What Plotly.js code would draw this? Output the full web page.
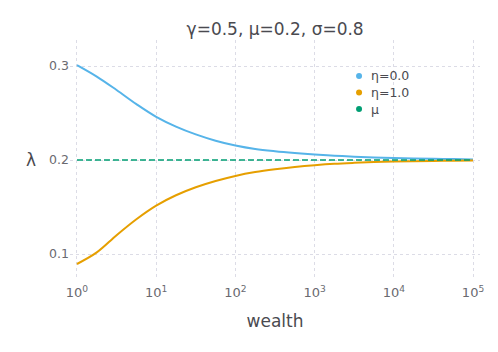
<!DOCTYPE html>
<html>
<head>
<meta charset="utf-8">
<script src="https://cdn.plot.ly/plotly-3.0.1.min.js"></script>
<style>
  html, body { margin: 0; padding: 0; background: #fff; }
  #plot { width: 498px; height: 352px; }
</style>
</head>
<body>
<div id="plot"></div>
<script>
// wealth sampled every quarter decade
var wealth = [1, 1.778, 3.162, 5.623, 10, 17.78, 31.62, 56.23, 100, 177.8, 316.2, 562.3,
              1000, 1778, 3162, 5623, 10000, 17783, 31623, 56234, 100000];
var lambdaEta0 = [0.301, 0.2888, 0.2745, 0.2595, 0.2460, 0.2356, 0.2273, 0.2206, 0.2155, 0.2118, 0.2094,
                  0.2075, 0.2059, 0.2046, 0.2036, 0.2028, 0.2022, 0.2017, 0.2013, 0.2010, 0.2007];
var lambdaEta1 = [0.0894, 0.1017, 0.1200, 0.1370, 0.1515, 0.1625, 0.1710, 0.1777, 0.1831, 0.1872, 0.1902,
                  0.1926, 0.1945, 0.196, 0.197, 0.1978, 0.1984, 0.1988, 0.1991, 0.1993, 0.1995];
var muWealth = [1, 100000];
var muValue = [0.2, 0.2];

var tickWealth = [1, 10, 100, 1000, 10000, 100000];
var tickText = ['10<sup>0</sup>', '10<sup>1</sup>', '10<sup>2</sup>', '10<sup>3</sup>', '10<sup>4</sup>', '10<sup>5</sup>'];
var yTicks = [0.1, 0.2, 0.3];
var yTickText = ['0.1', '0.2', '0.3'];

var names = ['η=0.0', 'η=1.0', 'μ'];
var colors = ['#56B4E9', '#E69F00', '#009E73'];

(function (document, window) {

    var gridColor = '#dcdce6';
    var textColor = '#4a4a50';
    var tickColor = '#6a6a70';

    document.addEventListener("DOMContentLoaded", function () {

        var traces = [
            { x: wealth, y: lambdaEta0, mode: 'lines', line: { color: colors[0], width: 2, shape: 'spline', smoothing: 1 }, showlegend: false, hoverinfo: 'skip' },
            { x: wealth, y: lambdaEta1, mode: 'lines', line: { color: colors[1], width: 2, shape: 'spline', smoothing: 1 }, showlegend: false, hoverinfo: 'skip' },
            { x: muWealth, y: muValue, mode: 'lines', line: { color: colors[2], width: 1.5, dash: '6px,3px' }, showlegend: false, hoverinfo: 'skip' }
        ];

        // legend drawn by hand: dots + labels, tighter than plotly's own
        var legX = 0.705, legTextX = 0.73, legY = [0.849, 0.779, 0.710];
        var shapes = [], annotations = [];
        names.forEach(function (n, i) {
            shapes.push({
                type: 'circle', xref: 'paper', yref: 'paper',
                xsizemode: 'pixel', ysizemode: 'pixel',
                xanchor: legX, yanchor: legY[i],
                x0: -3, x1: 3, y0: -3, y1: 3,
                fillcolor: colors[i], line: { width: 0 }
            });
            annotations.push({
                text: n, xref: 'paper', yref: 'paper', x: legTextX, y: legY[i],
                xanchor: 'left', yanchor: 'middle', showarrow: false,
                font: { size: 12.5, color: textColor }
            });
        });

        annotations.push({
            text: 'λ', xref: 'paper', yref: 'y', x: -0.095, y: 0.2,
            xanchor: 'center', yanchor: 'middle', showarrow: false,
            font: { size: 17, color: textColor }
        });

        var layout = {
            width: 498,
            height: 352,
            margin: { l: 70, r: 18, t: 40, b: 74 },
            paper_bgcolor: '#fff',
            plot_bgcolor: '#fff',
            font: { family: 'DejaVu Sans', color: tickColor, size: 12 },
            title: {
                text: 'γ=0.5, μ=0.2, σ=0.8',
                font: { size: 17, color: textColor },
                x: 0.5525, xanchor: 'center', y: 0.918, yanchor: 'middle'
            },
            xaxis: {
                type: 'log',
                range: [-0.088, 5.088],
                tickvals: tickWealth,
                ticktext: tickText,
                showgrid: true,
                gridcolor: gridColor,
                griddash: 'dot',
                gridwidth: 1,
                zeroline: false,
                showline: false,
                ticks: '',
                ticklabelstandoff: 5,
                tickfont: { size: 13, color: tickColor },
                title: { text: 'wealth', font: { size: 17, color: textColor }, standoff: 16 }
            },
            yaxis: {
                range: [0.0745, 0.3277],
                tickvals: yTicks,
                ticktext: yTickText,
                showgrid: true,
                gridcolor: gridColor,
                griddash: 'dot',
                gridwidth: 1,
                zeroline: false,
                showline: false,
                ticks: '',
                tickfont: { size: 12.5, color: tickColor }
            },
            shapes: shapes,
            annotations: annotations,
            showlegend: false
        };

        Plotly.newPlot('plot', traces, layout, { displayModeBar: false, staticPlot: true });
    });

})(document, window);
</script>
</body>
</html>
